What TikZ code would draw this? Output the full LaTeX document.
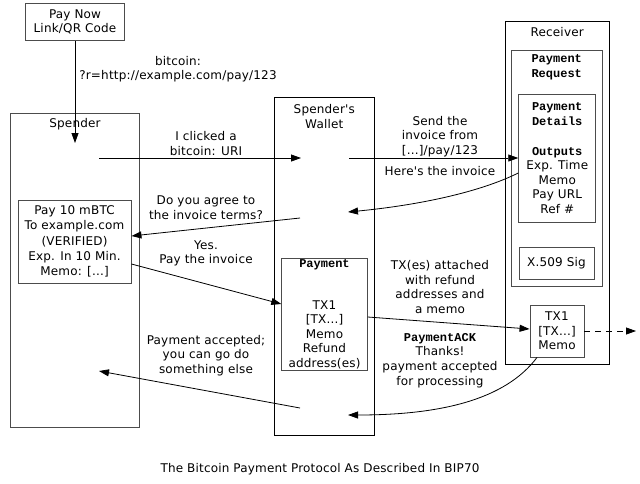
\documentclass[tikz,border=0pt]{standalone}
\usepackage{fontspec}
\newfontfamily\diagfont{DejaVu Sans}[LetterSpace=1.5]
\newfontfamily\codefont{Liberation Mono}
\usetikzlibrary{arrows.meta}
\newcommand{\code}[1]{{\codefont\bfseries\fontsize{12}{14.8}\selectfont #1}}

\begin{document}
\begin{tikzpicture}[x=1pt,y=-1pt,
  every node/.style={font=\diagfont\fontsize{12}{14.6}\selectfont, align=center},
  box/.style={draw=black!70, line width=0.9pt, inner sep=0pt},
  lane/.style={box, draw=black},
  msg/.style={-{Triangle[length=10pt,width=7pt]}, line width=0.8pt}]
\useasboundingbox (0,0) rectangle (640,483);
% Pay Now link
\node[box, minimum width=99pt, minimum height=37.5pt] (paynow) at (75,22) {Pay Now\\Link/QR Code};
% Spender and the invoice it shows
\node[box, minimum width=128.5pt, minimum height=314pt] (spender) at (75,270.5) {};
\node (spendertitle) at (75,124.5) {Spender};
\node[box, minimum width=113pt, minimum height=83pt, font=\diagfont\fontsize{12}{15.2}\selectfont] (paybox) at (74.5,241.5)
  {Pay 10 mBTC\\To example.com\\(VERIFIED)\\Exp. In 10 Min.\\Memo: [...]};
% Spender's wallet and its Payment
\node[lane, minimum width=100pt, minimum height=337.5pt] (wallet) at (324.3,266.2) {};
\node (wallettitle) at (324.3,116.5) {Spender's\\Wallet};
\node[box, minimum width=85.5pt, minimum height=111.7pt] (payment) at (324.5,314.2)
  {\code{Payment}\\[27pt]TX1\\{[TX...]}\\Memo\\Refund\\address(es)};
% Receiver and its PaymentRequest
\node[lane, minimum width=104.3pt, minimum height=342.3pt] (receiver) at (557.2,192.8) {};
\node (receivertitle) at (557.2,32.5) {Receiver};
\node[box, minimum width=91.3pt, minimum height=235.7pt] (payreq) at (556.7,168.3) {};
\node (payreqtitle) at (556.7,67) {\code{Payment}\\\code{Request}};
\node[box, minimum width=77pt, minimum height=128pt] (details) at (557.2,158.3)
  {\code{Payment}\\\code{Details}\\[15pt]\code{Outputs}\\Exp. Time\\Memo\\Pay URL\\Ref \#};
\node[box, minimum width=75pt, minimum height=32pt] (x509) at (556.5,263) {X.509 Sig};
\node[box, minimum width=54pt, minimum height=52pt] (tx) at (557,331) {TX1\\{[TX...]}\\Memo};
% free ends of the messages
\coordinate (sp0) at (75,143);
\coordinate (sp1) at (99,158);
\coordinate (sp2) at (99,371);
\coordinate (wl1) at (301,158);
\coordinate (wl2) at (349,158);
\coordinate (wl3) at (348,212);
\coordinate (wl4) at (300,218);
\coordinate (wl5) at (300,408);
\coordinate (wl6) at (348,415);
\coordinate (out) at (636,331);
% messages
\draw[msg] (paynow) -- (sp0);
\draw[msg] (sp1) -- (wl1);
\draw[msg] (wl2) -- (wl2 -| details.west);
\draw[msg] (details.west |- 0,173) .. controls (480,192) and (420,205) .. (wl3);
\draw[msg] (wl4) -- (paybox.east |- 0,236);
\draw[msg] (paybox.east |- 0,264) -- (payment.west |- 0,304);
\draw[msg] (payment.east |- 0,317) -- (tx.west |- 0,329);
\draw[msg] ([xshift=-20pt]tx.south) .. controls (505,400) and (440,415) .. (wl6);
\draw[msg] (wl5) -- (sp2);
\draw[msg, dash pattern=on 6pt off 5pt] (tx.east) -- (out);
% message labels
\node (urllbl) at (178,69) {bitcoin:\\?r=http://example.com/pay/123};
\node (clicklbl) at (206,143.5) {I clicked a\\bitcoin: URI};
\node (agreelbl) at (206,208) {Do you agree to\\the invoice terms?};
\node (yeslbl) at (206,253.5) {Yes.\\Pay the invoice};
\node (donelbl) at (206,355.5) {Payment accepted;\\you can go do\\something else};
\node (sendlbl) at (440,136.5) {Send the\\invoice from\\{[...]}/pay/123};
\node (herelbl) at (440,171.5) {Here's the invoice};
\node (txlbl) at (440,287) {TX(es) attached\\with refund\\addresses and\\a memo};
\node (acklbl) at (440,360.5) {\code{PaymentACK}\\Thanks!\\payment accepted\\for processing};
% caption
\node (caption) at (320,469) {The Bitcoin Payment Protocol As Described In BIP70};
\end{tikzpicture}
\end{document}
